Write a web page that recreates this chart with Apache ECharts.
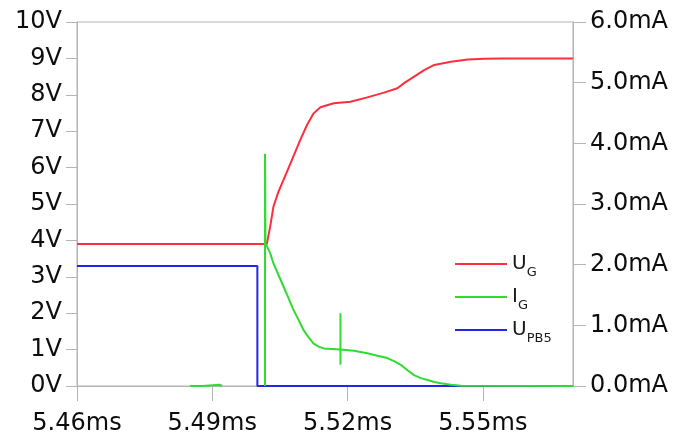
<!DOCTYPE html>
<html>
<head>
<meta charset="utf-8">
<script src="https://cdn.jsdelivr.net/npm/echarts@6/dist/echarts.min.js"></script>
<style>
  html, body { margin: 0; padding: 0; background: #fff; }
  #chart { width: 675px; height: 437px; }
</style>
</head>
<body>
<div id="chart"></div>
<script>
// Gate voltage U_G [ms, V]
const ugTime = [5.46, 5.5021, 5.50284, 5.50357, 5.50469, 5.5058, 5.50767, 5.50952, 5.51101, 5.51248, 5.51398,
                5.51694, 5.52066, 5.52438, 5.52808, 5.53106, 5.53253, 5.53476, 5.53699, 5.53922, 5.54294,
                5.54666, 5.55035, 5.55408, 5.57];
const ugVolt = [3.9, 3.9, 4.38, 4.93, 5.34, 5.66, 6.21, 6.76, 7.17, 7.49, 7.66,
                7.77, 7.81, 7.93, 8.06, 8.18, 8.32, 8.50, 8.68, 8.82, 8.91,
                8.97, 8.99, 9.0, 9.0];

// Gate current I_G [ms, mA]; '-' marks a gap in the trace
const igTime = [5.4851, 5.4878, 5.4880, 5.4916, 5.4920, 5.4922, 5.4930,
                5.5017, 5.5017, 5.5018, 5.50284, 5.50357, 5.50469, 5.5058, 5.50691, 5.50803, 5.50914,
                5.51026, 5.51137, 5.51248, 5.5136, 5.51471, 5.51843, 5.51843, 5.51843, 5.51843,
                5.5214, 5.52438, 5.52661, 5.52883, 5.53031, 5.5318, 5.53329, 5.53476, 5.53625,
                5.53775, 5.53922, 5.54071, 5.54294, 5.54516, 5.57];
const igCurr = [0, 0, 0.02, 0.02, 0, 0, '-',
                0, 3.83, 2.35, 2.19, 2.02, 1.83, 1.64, 1.45, 1.25, 1.09,
                0.92, 0.80, 0.70, 0.65, 0.62, 0.60, 1.20, 0.35, 0.60,
                0.58, 0.54, 0.50, 0.46, 0.41, 0.35, 0.26, 0.18, 0.13,
                0.10, 0.066, 0.045, 0.02, 0.005, 0];

// Output U_PB5 [ms, V]
const upTime = [5.46, 5.5000, 5.5000, 5.57];
const upVolt = [3.3, 3.3, 0, 0];

// Axis ticks
const xTicks = [5.46, 5.49, 5.52, 5.55];

const zip = (a, b) => a.map((v, i) => [v, b[i]]);

const AXIS_GRAY = '#b4b4b4';
const FONT = 'DejaVu Sans';

const chart = echarts.init(document.getElementById('chart'), null, { renderer: 'canvas' });

const subscripts = { UG: ['U', 'G'], IG: ['I', 'G'], UPB5: ['U', 'PB5'] };

chart.setOption({
  animation: false,
  backgroundColor: '#ffffff',
  grid: {
    left: 77, right: 102, top: 22, bottom: 51,
    show: true, borderColor: AXIS_GRAY, borderWidth: 1, backgroundColor: 'transparent'
  },
  legend: {
    orient: 'vertical',
    left: 450, top: 249,
    itemWidth: 52, itemHeight: 14, itemGap: 8,
    icon: 'path://M0,6 L52,6 L52,8 L0,8 Z',
    selectedMode: false,
    formatter: name => `{m|${subscripts[name][0]}}{s|${subscripts[name][1]}}`,
    textStyle: {
      rich: {
        m: { fontFamily: FONT, fontSize: 20, color: '#1a1a1a', lineHeight: 30, verticalAlign: 'middle' },
        s: { fontFamily: FONT, fontSize: 13, color: '#1a1a1a', lineHeight: 14, verticalAlign: 'bottom' }
      }
    },
    data: ['UG', 'IG', 'UPB5']
  },
  xAxis: {
    type: 'value', min: 5.46, max: 5.57, interval: 0.03,
    axisLine: { show: true, lineStyle: { color: AXIS_GRAY, width: 1 } },
    axisTick: { show: true, length: 15, customValues: xTicks, lineStyle: { color: AXIS_GRAY } },
    axisLabel: {
      customValues: xTicks, margin: 26,
      fontFamily: FONT, fontSize: 24, color: '#0d0d0d',
      formatter: v => v.toFixed(2) + 'ms'
    },
    splitLine: { show: false }
  },
  yAxis: [
    {
      type: 'value', min: 0, max: 10, interval: 1, position: 'left',
      axisLine: { show: true, lineStyle: { color: AXIS_GRAY } },
      axisTick: { show: true, length: 11, lineStyle: { color: AXIS_GRAY } },
      axisLabel: { margin: 15, fontFamily: FONT, fontSize: 24, color: '#0d0d0d', formatter: v => v + 'V' },
      splitLine: { show: false }
    },
    {
      type: 'value', min: 0, max: 6, interval: 1, position: 'right',
      axisLine: { show: true, lineStyle: { color: AXIS_GRAY } },
      axisTick: { show: true, length: 13, lineStyle: { color: AXIS_GRAY } },
      axisLabel: { margin: 17, fontFamily: FONT, fontSize: 24, color: '#0d0d0d', formatter: v => v.toFixed(1) + 'mA' },
      splitLine: { show: false }
    }
  ],
  series: [
    {
      name: 'UG', type: 'line', yAxisIndex: 0, symbol: 'none', z: 3,
      color: '#ff2d3d', lineStyle: { width: 2, color: '#ff2d3d' },
      data: zip(ugTime, ugVolt)
    },
    {
      name: 'IG', type: 'line', yAxisIndex: 1, symbol: 'none', z: 4, connectNulls: false,
      color: '#2fdc2f', lineStyle: { width: 2, color: '#2fdc2f' },
      data: zip(igTime, igCurr)
    },
    {
      name: 'UPB5', type: 'line', yAxisIndex: 0, symbol: 'none', z: 2,
      color: '#2626e6', lineStyle: { width: 2, color: '#2626e6' },
      data: zip(upTime, upVolt)
    }
  ]
});
</script>
</body>
</html>
